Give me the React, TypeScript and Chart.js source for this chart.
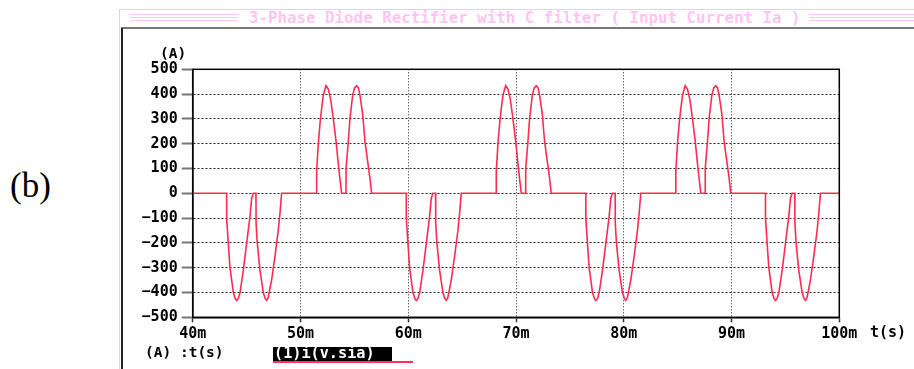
import React, { useEffect, useRef } from 'react';
import { Chart, registerables } from 'chart.js';

Chart.register(...registerables);

// ---- data (time in ms, current in A) ----
const xTickValuesMs = [40, 50, 60, 70, 80, 90, 100];
const yTickValues = [500, 400, 300, 200, 100, 0, -100, -200, -300, -400, -500];

const negPulseStartsMs = [43.15, 59.82, 76.48, 93.15];
const posPulseStartsMs = [51.5, 68.17, 84.83];

const negPulseOffsetsMs = [0, 0.001, 0.15, 0.31, 0.62, 0.8, 0.93, 1.08, 1.24, 1.55, 1.86, 2.16, 2.32, 2.47, 2.72, 2.73, 2.84, 3.09, 3.4, 3.58, 3.71, 3.86, 4.17, 4.48, 4.79, 4.95, 5.1];
const negPulseAmps = [0, -100, -200, -300, -400, -425, -432, -425, -400, -310, -200, -95, -20, 0, 0, -120, -200, -310, -400, -425, -432, -420, -350, -255, -150, -80, 0];

const posPulseOffsetsMs = [0, 0.001, 0.155, 0.31, 0.46, 0.62, 0.87, 1.08, 1.3, 1.55, 1.8, 2.01, 2.16, 2.32, 2.72, 2.73, 2.94, 3.09, 3.34, 3.52, 3.71, 3.88, 4.02, 4.27, 4.48, 4.7, 4.95, 5.1];
const posPulseAmps = [0, 90, 200, 280, 340, 395, 434, 420, 380, 300, 210, 120, 60, 0, 0, 100, 210, 300, 395, 425, 434, 425, 395, 320, 210, 140, 60, 0];

function buildSeries() {
  const pulses: { start: number; offs: number[]; amps: number[] }[] = [];
  negPulseStartsMs.forEach((s) => pulses.push({ start: s, offs: negPulseOffsetsMs, amps: negPulseAmps }));
  posPulseStartsMs.forEach((s) => pulses.push({ start: s, offs: posPulseOffsetsMs, amps: posPulseAmps }));
  pulses.sort((a, b) => a.start - b.start);
  const pts: { x: number; y: number }[] = [{ x: 40, y: 0 }];
  pulses.forEach((p) => {
    p.offs.forEach((o, i) => pts.push({ x: p.start + o, y: p.amps[i] }));
  });
  pts.push({ x: 100, y: 0 });
  return pts;
}

const mono = '"DejaVu Sans Mono", "Liberation Mono", monospace';

const T = ({ x, cy, size, children, color = '#000', weight = 'bold', family = mono }: any) => (
  <div
    style={{
      position: 'absolute',
      left: x,
      top: cy - size / 2,
      fontSize: size,
      lineHeight: `${size}px`,
      fontFamily: family,
      fontWeight: weight,
      color,
      whiteSpace: 'pre',
    }}
  >
    {children}
  </div>
);

const Line = ({ x, y, w, h, c }: any) => (
  <div style={{ position: 'absolute', left: x, top: y, width: w, height: h, background: c }} />
);

export default function App() {
  const ref = useRef<HTMLCanvasElement>(null);

  useEffect(() => {
    if (!ref.current) return;
    const framePlugin = {
      id: 'frame',
      afterDraw(chart: any) {
        const { ctx, chartArea: a } = chart;
        ctx.save();
        ctx.strokeStyle = '#000';
        ctx.lineWidth = 1.5;
        ctx.strokeRect(a.left, a.top, a.right - a.left, a.bottom - a.top);
        ctx.restore();
      },
    };
    const tickFont = { family: mono, size: 15, weight: 'bold' as const };
    const chart = new Chart(ref.current, {
      type: 'line',
      data: {
        datasets: [
          {
            data: buildSeries(),
            borderColor: '#ff2a52',
            borderWidth: 1.6,
            pointRadius: 0,
            tension: 0,
            fill: false,
          },
        ],
      },
      options: {
        animation: false,
        responsive: false,
        maintainAspectRatio: false,
        layout: { padding: { left: 122.7, right: 74.7, top: 69.3, bottom: 21.7 } },
        plugins: { legend: { display: false }, tooltip: { enabled: false } },
        scales: {
          x: {
            type: 'linear',
            min: 40,
            max: 100,
            afterBuildTicks: (s: any) => {
              s.ticks = xTickValuesMs.map((v) => ({ value: v }));
            },
            afterFit: (s: any) => {
              s.height = 30;
            },
            ticks: {
              callback: (v: any) => `${v}m`,
              font: tickFont,
              color: '#000',
              padding: 3,
              maxRotation: 0,
              autoSkip: false,
            },
            grid: {
              color: '#222',
              lineWidth: 1,
              tickLength: 5,
              tickColor: '#333',
              tickWidth: 1.5,
              tickBorderDash: [],
            } as any,
            border: { display: true, color: '#000', width: 1.5, dash: [1, 2] },
          },
          y: {
            min: -500,
            max: 500,
            afterBuildTicks: (s: any) => {
              s.ticks = yTickValues.map((v) => ({ value: v }));
            },
            afterFit: (s: any) => {
              s.width = 70;
            },
            ticks: {
              callback: (v: any) => (Number(v) < 0 ? `\u2212${Math.abs(Number(v))}` : `${v}`),
              font: tickFont,
              color: '#000',
              padding: 4,
              autoSkip: false,
            },
            grid: {
              color: '#222',
              lineWidth: 1,
              tickLength: 11,
              tickColor: '#777',
              tickWidth: 2,
              tickBorderDash: [],
            } as any,
            border: { display: true, color: '#000', width: 1.5, dash: [2, 2] },
          },
        },
      },
      plugins: [framePlugin],
    });
    return () => chart.destroy();
  }, []);

  const pink = '#ffc4f2';
  const title = '3-Phase Diode Rectifier with C filter ( Input Current Ia )';

  return (
    <div style={{ position: 'fixed', left: 0, top: 0, width: 914, height: 369, background: '#fff', overflow: 'hidden' }}>
      <T x={10} cy={185} size={35} weight="normal" family='"Liberation Serif", "Times New Roman", serif'>(b)</T>
      {/* pink window frame */}
      <Line x={119} y={9} w={800} h={1} c={pink} />
      <Line x={119} y={9} w={1} h={370} c={pink} />
      {/* title bar */}
      <Line x={130} y={14} w={108} h={1} c={pink} />
      <Line x={130} y={17} w={108} h={1} c={pink} />
      <Line x={130} y={20} w={108} h={1} c={pink} />
      <Line x={809} y={14} w={110} h={1} c={pink} />
      <Line x={809} y={17} w={110} h={1} c={pink} />
      <Line x={809} y={20} w={110} h={1} c={pink} />
      <T x={249} cy={18} size={15.8} color={pink}>{title}</T>
      <Line x={121} y={27} w={800} h={2} c="#777" />
      <Line x={121} y={28} w={2} h={345} c="#222" />
      <canvas ref={ref} width={914} height={369} style={{ position: 'absolute', left: 0, top: 0, width: 914, height: 369 }} />
      <T x={160} cy={53} size={14.5}>(A)</T>
      <T x={870} cy={332} size={15}>t(s)</T>
      <T x={145} cy={352} size={14.5}>(A) :t(s)</T>
      <div style={{ position: 'absolute', left: 273, top: 346.5, width: 119, height: 14, background: '#000' }} />
      <T x={274} cy={353.5} size={15.2} color="#fff">(1)i(v.sia)</T>
      <Line x={273} y={361} w={140} h={1.5} c="#ff3060" />
    </div>
  );
}
